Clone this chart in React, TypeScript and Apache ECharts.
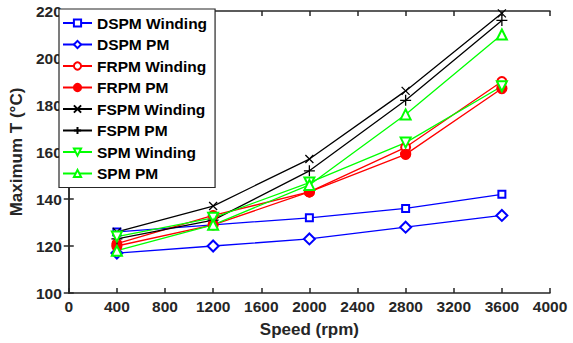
import React, { useEffect, useRef } from "react";
import * as echarts from "echarts";

const speeds = [400, 1200, 2000, 2800, 3600];
const dspmWinding = [126, 129, 132, 136, 142];
const dspmPM = [117, 120, 123, 128, 133];
const frpmWinding = [121, 133, 143, 162, 190];
const frpmPM = [120, 129, 143, 159, 187];
const fspmWinding = [126, 137, 157, 186, 219];
const fspmPM = [123, 131, 152, 182, 216];
const spmWinding = [124, 132, 147, 164, 188];
const spmPM = [118, 129, 146, 176, 210];

const CROSS = "path://M0,0L10,10M10,0L0,10";
const PLUS = "path://M5,0L5,10M0,5L10,5";

const FONT = "'Liberation Sans', Arial, sans-serif";
const AX = "#262626";

export default function App() {
  const ref = useRef<HTMLDivElement>(null);
  useEffect(() => {
    if (!ref.current) return;
    const chart = echarts.init(ref.current, null, { renderer: "svg" });
    const mk = (
      name: string,
      data: number[],
      color: string,
      symbol: string,
      size: number,
      opts: any = {}
    ) => ({
      name,
      type: "line",
      data: speeds.map((s, i) => [s, data[i]]),
      symbol,
      symbolSize: size,
      showAllSymbol: true,
      lineStyle: { color, width: 1.3 },
      itemStyle: { color: opts.fill || color, borderColor: color, borderWidth: opts.bw || 1.3 },
      symbolRotate: opts.rotate || 0,
      z: opts.z || 2,
    });
    const series = [
      mk("DSPM Winding", dspmWinding, "#0000ff", "emptyRect", 7),
      mk("DSPM PM", dspmPM, "#0000ff", "emptyDiamond", 11),
      mk("FRPM Winding", frpmWinding, "#ff0000", "emptyCircle", 9),
      mk("FRPM PM", frpmPM, "#ff0000", "circle", 10),
      mk("FSPM Winding", fspmWinding, "#000000", CROSS, 8, { fill: "none" }),
      mk("FSPM PM", fspmPM, "#000000", PLUS, 11, { fill: "none" }),
      mk("SPM Winding", spmWinding, "#00ff00", "emptyTriangle", 10, { rotate: 180 }),
      mk("SPM PM", spmPM, "#00ff00", "emptyTriangle", 10),
    ];
    const axisCommon = {
      axisLine: { show: true, lineStyle: { color: AX, width: 1.5 } },
      axisTick: { show: true, inside: true, length: 5, lineStyle: { color: AX, width: 1.5 } },
      splitLine: { show: false },
    };
    const fmt = (v: number) => String(v);
    chart.setOption({
      animation: false,
      backgroundColor: "#ffffff",
      grid: { left: 61, right: 23, top: 11, bottom: 50, containLabel: false },
      xAxis: [
        {
          type: "value",
          min: 0,
          max: 4000,
          interval: 400,
          position: "bottom",
          ...axisCommon,
          axisLabel: { color: AX, fontWeight: "bold", fontSize: 15.5, fontFamily: FONT, margin: 5, formatter: fmt },
          name: "Speed (rpm)",
          nameLocation: "middle",
          nameGap: 28,
          nameTextStyle: { color: AX, fontWeight: "bold", fontSize: 17, fontFamily: FONT },
        },
        {
          type: "value",
          min: 0,
          max: 4000,
          interval: 400,
          position: "top",
          ...axisCommon,
          axisLabel: { show: false },
        },
      ],
      yAxis: [
        {
          type: "value",
          min: 100,
          max: 220,
          interval: 20,
          position: "left",
          ...axisCommon,
          axisLabel: { color: AX, fontWeight: "bold", fontSize: 15.5, fontFamily: FONT, margin: 7, formatter: fmt },
          name: "Maximum T (°C)",
          nameLocation: "middle",
          nameGap: 38,
          nameTextStyle: { color: AX, fontWeight: "bold", fontSize: 17, fontFamily: FONT },
        },
        {
          type: "value",
          min: 100,
          max: 220,
          interval: 20,
          position: "right",
          ...axisCommon,
          axisLabel: { show: false },
        },
      ],
      legend: {
        orient: "vertical",
        left: 59,
        top: 9,
        backgroundColor: "#ffffff",
        borderColor: AX,
        borderWidth: 1.2,
        padding: [6, 8, 6, 3],
        itemGap: 5.5,
        itemWidth: 29,
        itemHeight: 9,
        textStyle: { color: "#000", fontWeight: "bold", fontSize: 15.5, fontFamily: FONT, lineHeight: 16 },
        data: series.map((s) => s.name),
      },
      series,
    });
    return () => chart.dispose();
  }, []);
  return (
    <div
      ref={ref}
      style={{ position: "fixed", left: 0, top: 0, width: 573, height: 343 }}
    />
  );
}
